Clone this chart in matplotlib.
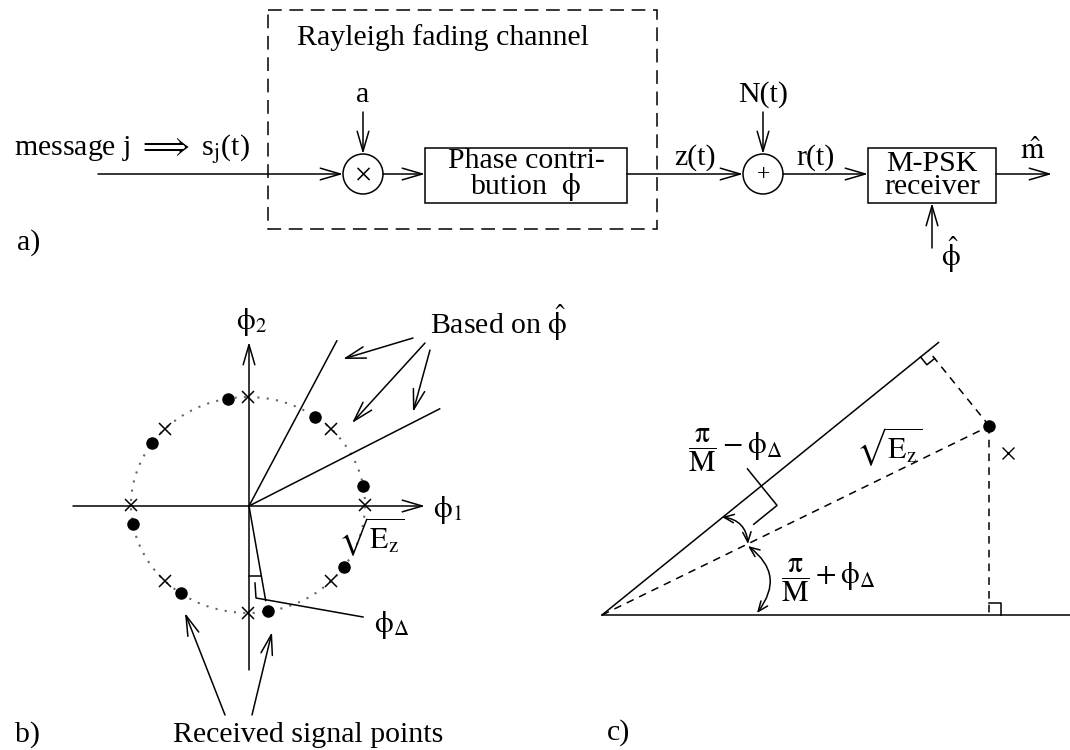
import numpy as np
import matplotlib
matplotlib.use('Agg')
import matplotlib.pyplot as plt
from matplotlib.patches import Rectangle, Circle, Ellipse, FancyArrowPatch

plt.rcParams['font.family'] = ['Liberation Serif', 'DejaVu Serif']
plt.rcParams['mathtext.fontset'] = 'stix'

# ---- panel a: block chain ----
signal_y = 174
block_labels = ['Phase contri-\nbution  $\\mathrm{\\phi}$', 'M-PSK\nreceiver']
block_x = [(425, 627), (868, 996)]
block_y = (148, 203)
node_x = [363, 763]               # multiplier, adder
node_r = 20
node_sym = ['$\\times$', '+']
node_inputs = ['a', 'N(t)']
wire_labels = ['z(t)', 'r(t)']
wire_label_x = [695, 816]

# ---- panel b: 8-PSK constellation ----
M = 8
psk_angles = np.arange(M) * 360.0 / M
phi_delta = 10.0                  # rotation of received points (deg)
circ_c = (248, 505)
circ_rx, circ_ry = 117, 108
boundary_angles = [27, 62]
boundary_lengths = [214, 187]

# ---- panel c: geometry ----
c_origin = (602, 615)
c_solid_angle, c_solid_len = 39.0, 433
c_dot_angle, c_dot_r = 26.0, 431
c_cross_angle, c_cross_r = 21.8, 437

PHI = '\\mathrm{\\phi}'
PI_M = '\\dfrac{\\mathrm{\\pi}}{\\mathrm{M}}'
SQRT_EZ = '$\\sqrt{\\mathrm{E}_{\\mathrm{z}}}$'

fig = plt.figure(figsize=(10.7, 7.5), dpi=100)
ax = fig.add_axes([0, 0, 1, 1])
ax.set_xlim(0, 1070)
ax.set_ylim(750, 0)
ax.axis('off')

FS = 21.5
LW = 1.1


def arrow(p0, p1, style='->', rad=0.0, lw=LW, hl=1.2, hw=0.35):
    ax.add_patch(FancyArrowPatch(p0, p1,
                                 arrowstyle='%s,head_length=%s,head_width=%s' % (style, hl, hw),
                                 mutation_scale=12, connectionstyle='arc3,rad=%s' % rad,
                                 lw=lw, color='k', shrinkA=0, shrinkB=0))


def line(xs, ys, **kw):
    kw.setdefault('color', 'k')
    kw.setdefault('lw', LW)
    ax.plot(xs, ys, **kw)


# ================= a) =================
ax.add_patch(Rectangle((268, 10), 657 - 268, 229 - 10, fill=False, lw=LW,
                       ls=(0, (9, 5))))
ax.text(297, 38, 'Rayleigh fading channel', fontsize=FS, ha='left', va='center')
ax.text(14, 155, 'message j $\\Longrightarrow$ s$_{\\mathrm{j}}$(t)', fontsize=FS,
        ha='left', va='baseline')

arrow((98, signal_y), (node_x[0] - node_r, signal_y))
for nx, sym, lab in zip(node_x, node_sym, node_inputs):
    ax.add_patch(Circle((nx, signal_y), node_r, fill=False, lw=LW))
    ax.text(nx, signal_y + 1, sym, fontsize=17, ha='center', va='center')
    ax.text(nx, 95, lab, fontsize=FS, ha='center', va='center')
    arrow((nx, 112), (nx, signal_y - node_r))

for (x0, x1), lab in zip(block_x, block_labels):
    ax.add_patch(Rectangle((x0, block_y[0]), x1 - x0, block_y[1] - block_y[0],
                           fill=False, lw=LW))
    ax.text((x0 + x1) / 2, (block_y[0] + block_y[1]) / 2, lab, fontsize=FS,
            ha='center', va='center', linespacing=0.85)

arrow((node_x[0] + node_r, signal_y), (block_x[0][0], signal_y))
arrow((block_x[0][1], signal_y), (node_x[1] - node_r, signal_y))
arrow((node_x[1] + node_r, signal_y), (block_x[1][0], signal_y))
arrow((block_x[1][1], signal_y), (1052, signal_y))
for lx, lab in zip(wire_label_x, wire_labels):
    ax.text(lx, 158, lab, fontsize=FS, ha='center', va='center')
ax.text(1033, 152, '$\\hat{\\mathrm{m}}$', fontsize=FS, ha='center', va='center')
rx_mid = (block_x[1][0] + block_x[1][1]) / 2
arrow((rx_mid, 248), (rx_mid, block_y[1]))
ax.text(951, 255, '$\\hat{%s}$' % PHI, fontsize=FS, ha='center', va='center')
ax.text(17, 243, 'a)', fontsize=FS, ha='left', va='center')

# ================= b) =================
ox, oy = 249, 506
arrow((73, oy), (425, oy))
arrow((ox, 670), (ox, 342))
ax.text(448, 510, '$%s_1$' % PHI, fontsize=FS, ha='center', va='center')
ax.text(251, 322, '$%s_2$' % PHI, fontsize=FS, ha='center', va='center')

ax.add_patch(Ellipse(circ_c, 2 * circ_rx, 2 * circ_ry, fill=False, lw=1.5,
                     color='0.4', ls=(0, (1, 3.5))))
a = np.radians(psk_angles)
ax.plot(circ_c[0] + circ_rx * np.cos(a), circ_c[1] - circ_ry * np.sin(a), 'x',
        color='k', ms=9, mew=1.1)
a = np.radians(psk_angles + phi_delta)
ax.plot(circ_c[0] + circ_rx * np.cos(a), circ_c[1] - circ_ry * np.sin(a), 'o',
        color='k', ms=8)

for ang, L in zip(boundary_angles, boundary_lengths):
    t = np.radians(ang)
    line([ox, ox + L * np.cos(t)], [oy, oy - L * np.sin(t)])

ax.text(430, 323, 'Based on $\\hat{%s}$' % PHI, fontsize=FS, ha='left', va='center')
arrow((413, 338), (343, 359))
arrow((425, 343), (352, 423))
arrow((430, 350), (413, 412))

# phi_delta marker
t = np.radians(270 + phi_delta)
line([ox, ox + 96 * np.cos(t)], [oy, oy - 96 * np.sin(t)])
line([ox, ox + 70 * np.cos(t)], [576, 576])
line([255, 256, 363], [583, 598, 617])
ax.text(392, 625, '$%s_\\Delta$' % PHI, fontsize=FS, ha='center', va='center')
ax.text(371, 537, SQRT_EZ, fontsize=FS, ha='center', va='center')

ax.text(308, 735, 'Received signal points', fontsize=FS, ha='center', va='center')
arrow((225, 715), (185, 613))
arrow((252, 715), (272, 632))
ax.text(15, 735, 'b)', fontsize=FS, ha='left', va='center')

# ================= c) =================
cx0, cy0 = c_origin
line([cx0, 1070], [cy0, cy0])
u = np.array([np.cos(np.radians(c_solid_angle)), -np.sin(np.radians(c_solid_angle))])
n = np.array([abs(u[1]), abs(u[0])])   # perpendicular, pointing down-right
O = np.array(c_origin, dtype=float)
line([cx0, cx0 + c_solid_len * u[0]], [cy0, cy0 + c_solid_len * u[1]])

d = np.radians(c_dot_angle)
dot = O + c_dot_r * np.array([np.cos(d), -np.sin(d)])
line([cx0, dot[0]], [cy0, dot[1]], ls=(0, (5, 4)))
ax.plot(dot[0], dot[1], 'o', color='k', ms=8)
cr = np.radians(c_cross_angle)
ax.plot(cx0 + c_cross_r * np.cos(cr), cy0 - c_cross_r * np.sin(cr), 'x', color='k',
        ms=9, mew=1.0)

# perpendicular from dot to solid line
foot = O + np.dot(dot - O, u) * u
line([dot[0], foot[0]], [dot[1], foot[1]], ls=(0, (5, 4)))
s = 10
sq = np.array([foot - s * u, foot - s * u + s * n, foot + s * n])
line(sq[:, 0], sq[:, 1])
# vertical from dot to base line
line([dot[0], dot[0]], [dot[1], cy0], ls=(0, (5, 4)))
line([dot[0], dot[0] + 12, dot[0] + 12], [cy0 - 12, cy0 - 12, cy0])

# distance marker on solid line
P = O + 205 * u
q0 = P - 22 * n
q1 = P + 25 * n
q2 = q1 - 30 * u
line([q0[0], q1[0], q2[0]], [q0[1], q1[1], q2[1]])

# angle arcs
arrow((722, 517), (748, 544), style='<->', rad=-0.4, hl=0.6, hw=0.25)
arrow((748, 546), (757, 613), style='<->', rad=-0.5, hl=0.6, hw=0.25)

ax.text(735, 450, '$%s - %s_\\Delta$' % (PI_M, PHI), fontsize=FS,
        ha='center', va='center')
ax.text(828, 580, '$%s + %s_\\Delta$' % (PI_M, PHI), fontsize=FS,
        ha='center', va='center')
ax.text(889, 447, SQRT_EZ, fontsize=FS, ha='center', va='center')
ax.text(607, 733, 'c)', fontsize=FS, ha='left', va='center')

fig.savefig('out.png', dpi=100)
